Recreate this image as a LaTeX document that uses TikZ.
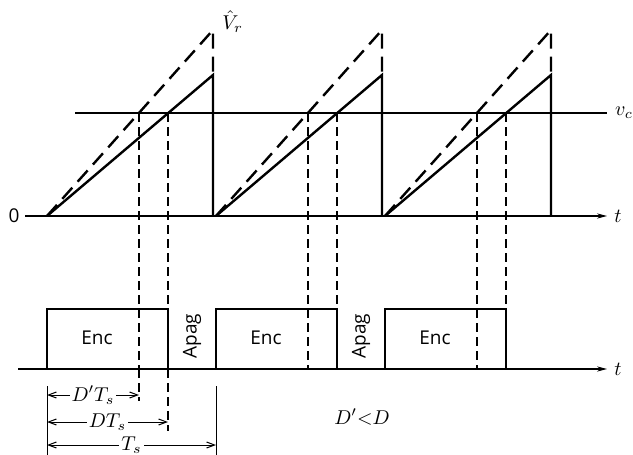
\documentclass[tikz,border=0pt]{standalone}
\usepackage{amsmath}
\usepackage{fontspec}
\newfontfamily\encfont{Open Sans}
\usetikzlibrary{arrows.meta}

\begin{document}
\begin{tikzpicture}[x=0.5pt, y=-0.5pt,
  axis/.style={line width=0.6pt, -{Stealth[length=5pt,width=2.6pt]}},
  ramp/.style={line width=1.2pt},
  rampdash/.style={line width=1.2pt, dash pattern=on 7.5pt off 4pt},
  guide/.style={line width=0.55pt, dash pattern=on 4.5pt off 2.5pt},
  pulse/.style={line width=1.2pt},
  dim/.style={line width=0.5pt, {Straight Barb[length=4pt,width=3pt]}-{Straight Barb[length=4pt,width=3pt]}},
  word/.style={font=\encfont\fontsize{9.5}{10}\selectfont, inner sep=0pt}]
  % pixel grid: x right, y down, 633 x 455
  \useasboundingbox (0,0) rectangle (633,455);

  % levels
  \def\yaxis{216}  \def\yvc{113}  \def\ypk{75}  \def\ypkd{30}
  \def\ybase{369}  \def\ytop{309}

  % time axes and control voltage
  \draw[axis] (25,\yaxis) -- (607,\yaxis);
  \node[word] (zero) at (14,\yaxis) {0};
  \node (t1) at (618,\yaxis) {$t$};
  \draw[line width=0.6pt] (75,\yvc) -- (607,\yvc);
  \node (vc) at (624,\yvc) {$v_c$};
  \draw[axis] (18,\ybase) -- (607,\ybase);
  \node (t2) at (618,\ybase) {$t$};

  % three switching periods
  \foreach \i in {0,1,2} {
    \pgfmathsetmacro{\s}{47+169*\i}
    \pgfmathsetmacro{\e}{\s+166}
    \pgfmathsetmacro{\xa}{\s+92}
    \pgfmathsetmacro{\xb}{\s+121}
    % sawtooth, solid and dashed
    \draw[ramp] (\s,\yaxis) -- (\e,\ypk) -- (\e,\yaxis);
    \draw[rampdash] (\s,\yaxis) -- (\e,\ypkd) -- (\e,\ypk);
    % crossings with v_c
    \draw[guide] (\xa,\yvc) -- (\xa,\ybase);
    \draw[guide] (\xb,\yvc) -- (\xb,\ybase);
    % gate pulse
    \draw[pulse] (\s,\ybase) -- (\s,\ytop) -- (\xb,\ytop) -- (\xb,\ybase);
    \node[word] (enc\i) at (\s+50,338) {Enc};
  }
  \node[word, rotate=90] (apag0) at (192,336) {Apag};
  \node[word, rotate=90] (apag1) at (361,336) {Apag};
  \node[inner sep=0pt, anchor=west] (vr) at (222,22) {$\hat{V}_r$};

  % dimensions of the first period
  \draw[guide] (139,\ybase) -- (139,401);
  \draw[guide] (168,\ybase) -- (168,431);
  \draw[line width=0.5pt] (47,386) -- (47,455);
  \draw[line width=0.5pt] (216,386) -- (216,455);
  \draw[dim] (47,395) -- node[fill=white, inner sep=1pt] {$D'T_s$} (139,395);
  \draw[dim] (47,422) -- node[fill=white, inner sep=1pt] {$DT_s$} (168,422);
  \draw[dim] (47,445) -- node[fill=white, inner sep=1pt] {$T_s$} (216,445);
  \node (cmp) at (362,417) {$D'{<}D$};
\end{tikzpicture}
\end{document}
